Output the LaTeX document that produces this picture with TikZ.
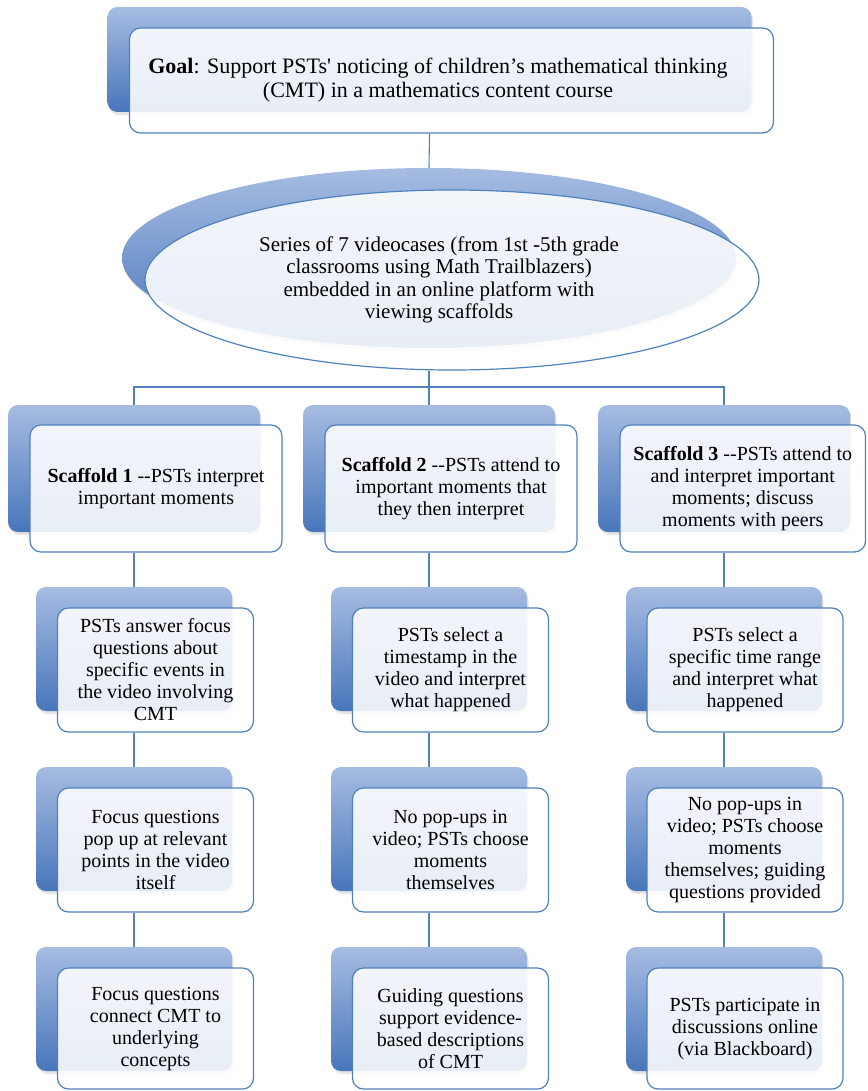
\documentclass[tikz,border=0pt]{standalone}
\usepackage{fontspec}
\setmainfont{Liberation Serif}
\usetikzlibrary{shapes.geometric,shadows}
\font\rawfont="Liberation Serif" at 20pt
\font\rawfontL="Liberation Serif" at 22pt
\newcommand\mydd{{\rawfont--}}
\newcommand\mysq{{\rawfontL'}}
\definecolor{bordblue}{RGB}{79,129,189}
\definecolor{backtop}{RGB}{166,188,226}
\definecolor{backbot}{RGB}{72,118,186}
\pgfdeclarelayer{bg}
\pgfsetlayers{bg,main}
\tikzset{
  backshape/.style={top color=backtop, bottom color=backbot, draw=none,
    drop shadow={shadow xshift=1.5pt, shadow yshift=-3pt, opacity=0.2}},
  back/.style={backshape, rectangle, rounded corners=10pt},
  backell/.style={backshape, ellipse},
  frontbase/.style={draw=bordblue, line width=1.2pt, fill=white, fill opacity=0.88,
    text opacity=1, font=\fontsize{20}{22}\selectfont, align=center, inner sep=0pt},
  front/.style={frontbase, rectangle, rounded corners=11pt},
  frontell/.style={frontbase, ellipse},
  txt/.style={font=\fontsize{21}{22.5}\selectfont, align=center, inner sep=0pt},
  topsz/.style={minimum width=644pt, minimum height=105pt},
  ellsz/.style={minimum width=614pt, minimum height=180pt},
  scsz/.style={minimum width=252pt, minimum height=127pt},
  smsz/.style={minimum width=196pt, minimum height=124pt},
  conn/.style={draw=bordblue, line width=1.1pt},
}
\begin{document}
\begin{tikzpicture}[x=1pt,y=-1pt]
\useasboundingbox (0,0) rectangle (867,1091);
% goal
\node[back, topsz] (goalback) at (429.5,59.5) {};
\node[front, topsz] (goal) at (451.5,80.5) {};
\node[txt, font=\fontsize{22}{24}\selectfont] (goaltxt) at (438,80.5) {\textbf{Goal}: Support PSTs\mysq{} noticing of children’s mathematical thinking\\(CMT) in a mathematics content course};
% ellipse
\node[backell, ellsz] (ellback) at (429,258) {};
\node[frontell, ellsz] (ell) at (452,280) {};
\node[txt] (elltxt) at (439,280) {Series of 7 videocases (from 1st -5th grade\\classrooms using Math Trailblazers)\\embedded in an online platform with\\viewing scaffolds};
% scaffolds
\node[back, scsz] (s1back) at (134,468.5) {};
\node[front, scsz] (s1) at (156,488.5) {\textbf{Scaffold 1} \mydd PSTs interpret\\important moments};
\node[back, scsz] (s2back) at (429,468.5) {};
\node[front, scsz] (s2) at (451,488.5) {\textbf{Scaffold 2} \mydd PSTs attend to\\important moments that\\they then interpret};
\node[back, scsz] (s3back) at (724,468.5) {};
\node[front, scsz, minimum width=245.5pt] (s3) at (742.75,488.5) {\textbf{Scaffold 3} \mydd PSTs attend to\\and interpret important\\moments; discuss\\moments with peers};
% column 1
\node[back, smsz] (a1back) at (134,649) {};
\node[front, smsz] (a1) at (155.5,670) {PSTs answer focus\\questions about\\specific events in\\the video involving\\CMT};
\node[back, smsz] (b1back) at (134,829) {};
\node[front, smsz] (b1) at (155.5,850) {Focus questions\\pop up at relevant\\points in the video\\itself};
\node[back, smsz] (c1back) at (134,1009) {};
\node[front, smsz, minimum height=121pt] (c1) at (155.5,1028.5) {Focus questions\\connect CMT to\\underlying\\concepts};
% column 2
\node[back, smsz] (a2back) at (429,649) {};
\node[front, smsz] (a2) at (450.5,670) {PSTs select a\\timestamp in the\\video and interpret\\what happened};
\node[back, smsz] (b2back) at (429,829) {};
\node[front, smsz] (b2) at (450.5,850) {No pop-ups in\\video; PSTs choose\\moments\\themselves};
\node[back, smsz] (c2back) at (429,1009) {};
\node[front, smsz, minimum height=121pt] (c2) at (450.5,1028.5) {Guiding questions\\support evidence-\\based descriptions\\of CMT};
% column 3
\node[back, smsz] (a3back) at (724,649) {};
\node[front, smsz] (a3) at (745,670) {PSTs select a\\specific time range\\and interpret what\\happened};
\node[back, smsz] (b3back) at (724,829) {};
\node[front, smsz] (b3) at (745,850) {No pop-ups in\\video; PSTs choose\\moments\\themselves; guiding\\questions provided};
\node[back, smsz] (c3back) at (724,1009) {};
\node[front, smsz, minimum height=121pt] (c3) at (745,1028.5) {PSTs participate in\\discussions online\\(via Blackboard)};
\coordinate (hub) at (429,387);
\begin{pgfonlayer}{bg}
\draw[conn] (goal.south -| goalback.center) -- (ellback.north);
\draw[conn] (ell.south -| ellback.center) -- (hub);
\draw[conn] (s1back.north) |- (hub) -| (s3back.north);
\draw[conn] (hub) -- (s2back.north);
\draw[conn] (s1.south -| s1back.center) -- (a1back.north);
\draw[conn] (a1.south -| a1back.center) -- (b1back.north);
\draw[conn] (b1.south -| b1back.center) -- (c1back.north);
\draw[conn] (s2.south -| s2back.center) -- (a2back.north);
\draw[conn] (a2.south -| a2back.center) -- (b2back.north);
\draw[conn] (b2.south -| b2back.center) -- (c2back.north);
\draw[conn] (s3.south -| s3back.center) -- (a3back.north);
\draw[conn] (a3.south -| a3back.center) -- (b3back.north);
\draw[conn] (b3.south -| b3back.center) -- (c3back.north);
\end{pgfonlayer}
\end{tikzpicture}
\end{document}
